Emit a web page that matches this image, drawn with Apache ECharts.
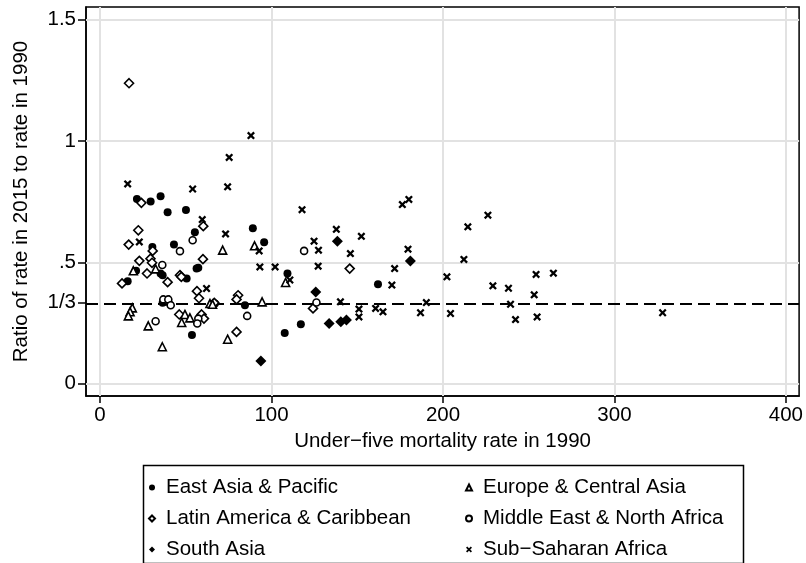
<!DOCTYPE html>
<html>
<head>
<meta charset="utf-8">
<script src="https://cdn.jsdelivr.net/npm/echarts@6/dist/echarts.min.js"></script>
<style>
  html, body { margin: 0; padding: 0; background: #fff; }
  #chart { width: 806px; height: 563px; }
</style>
</head>
<body>
<div id="chart"></div>
<script>
// [under-five mortality 1990, ratio 2015/1990]
const eastAsiaPacific = [
  [21.5, .761], [29.5, .750], [35.3, .772], [39.4, .706], [50.1, .715], [55.3, .624],
  [89.1, .640], [43.1, .573], [30.5, .563], [95.7, .583], [57.3, .477], [35.3, .454],
  [36.5, .447], [50.5, .433], [56.3, .474], [21, .465], [16.1, .422], [36.5, .333],
  [67, .330], [84.5, .323], [53.6, .200], [109.3, .454], [107.7, .209], [117.1, .245],
  [162.1, .410]
];
const latinAmerica = [
  [16.9, 1.238], [24.1, .745], [60.2, .649], [22.3, .632], [16.7, .573], [30.7, .547],
  [22.9, .506], [29.4, .515], [30.3, .498], [60, .513], [27.4, .454], [46.6, .447],
  [47.4, .440], [12.8, .413], [39.4, .418], [56.5, .381], [57.7, .352], [66.6, .333],
  [80.5, .364], [79.6, .347], [46.2, .285], [59.2, .285], [60.6, .268], [79.6, .213],
  [124.2, .310], [145.6, .474]
];
const southAsia = [
  [93.8, .093], [138.4, .587], [181, .505], [125.8, .378], [133.6, .248], [140.4, .255],
  [143.7, .262]
];
const europeCentralAsia = [
  [71.5, .550], [90.1, .568], [19.4, .465], [32.4, .473], [40.4, .341], [49.5, .285],
  [52.4, .271], [47.6, .252], [18.8, .312], [17.5, .296], [16.5, .279], [28.1, .238],
  [36.3, .152], [64.1, .330], [65.6, .327], [94.5, .337], [74.4, .183], [108.2, .417]
];
const middleEastNAfrica = [
  [54, .591], [46.6, .546], [36.3, .489], [36.9, .347], [39.8, .347], [41.2, .323],
  [32.4, .257], [57.3, .268], [56.7, .248], [85.8, .279], [119, .547], [126.2, .334]
];
const subSaharanAfrica = [
  [88, 1.022], [75.3, .932], [16.1, .823], [54, .802], [74.4, .811], [59.6, .676],
  [73.2, .617], [22.9, .584], [92.8, .547], [93.2, .481], [102.1, .481], [62.1, .392],
  [117.8, .717], [124.8, .587], [127.4, .550], [137.8, .636], [152.4, .607], [146, .536],
  [176.3, .738], [180.1, .759], [179.6, .554], [127.2, .484], [171.8, .474], [202.3, .440],
  [110.7, .427], [140.2, .337], [170.2, .406], [151, .307], [151, .275], [160.7, .310],
  [165, .296], [186.9, .292], [190.3, .334], [204.4, .289], [226.2, .694], [214.5, .646],
  [212.2, .512], [229.1, .403], [238.2, .393], [254.3, .450], [264.4, .455], [253.2, .366],
  [239.4, .327], [242.3, .264], [254.9, .275], [328.1, .292]
];

const xTicks = [0, 100, 200, 300, 400];
const yTicks = [0, 1 / 3, 0.5, 1, 1.5];
const yTickLabels = ['0', '1/3', '.5', '1', '1.5'];
const yGrid = [0, 0.5, 1, 1.5];
const refLine = 1 / 3;

const FONT = 'Liberation Sans, Arial, Helvetica, sans-serif';
const FS = 20.5;
const crossPath = 'path://M0,2L2,0L5,3L8,0L10,2L7,5L10,8L8,10L5,7L2,10L0,8L3,5Z';

const chart = echarts.init(document.getElementById('chart'));

function pts(name, data, symbol, size, hollow) {
  return {
    name: name,
    type: 'scatter',
    data: data,
    symbol: symbol,
    symbolSize: size,
    z: 5,
    itemStyle: hollow
      ? { color: '#fff', borderColor: '#000', borderWidth: 1.6, opacity: 1 }
      : { color: '#000', borderWidth: 0, opacity: 1 }
  };
}

const gridLines = [];
xTicks.forEach(v => gridLines.push({ xAxis: v }));
yGrid.forEach(v => gridLines.push({ yAxis: v }));

const legendText = { color: '#000', fontSize: FS, fontFamily: FONT, lineHeight: 20, padding: [0, 0, 0, 6] };

const option = {
  animation: false,
  backgroundColor: '#fff',
  textStyle: { fontFamily: FONT },
  grid: {
    left: 86, top: 7, right: 6, bottom: 167,
    show: true, borderColor: '#000', borderWidth: 1.5
  },
  xAxis: {
    type: 'value',
    min: -8.2, max: 407.7,
    name: 'Under\u2212five mortality rate in 1990',
    nameLocation: 'middle',
    nameGap: 31,
    nameTextStyle: { color: '#000', fontSize: FS, fontFamily: FONT },
    axisLine: { show: true, onZero: false, lineStyle: { color: '#000', width: 1.5 } },
    axisTick: { show: true, length: 7, customValues: xTicks, lineStyle: { color: '#000', width: 1.5 } },
    axisLabel: { customValues: xTicks, color: '#000', fontSize: FS, fontFamily: FONT, margin: 9 },
    splitLine: { show: false }
  },
  yAxis: {
    type: 'value',
    min: -0.051, max: 1.552,
    name: 'Ratio of rate in 2015 to rate in 1990',
    nameLocation: 'middle',
    nameGap: 54,
    nameRotate: 90,
    nameTextStyle: { color: '#000', fontSize: FS, fontFamily: FONT },
    axisLine: { show: true, onZero: false, lineStyle: { color: '#000', width: 1.5 } },
    axisTick: { show: true, length: 8, customValues: yTicks, lineStyle: { color: '#000', width: 1.5 } },
    axisLabel: {
      customValues: yTicks,
      color: '#000', fontSize: FS, fontFamily: FONT, margin: 10,
      formatter: function (v) {
        const i = yTicks.findIndex(t => Math.abs(t - v) < 1e-6);
        return i >= 0 ? yTickLabels[i] : '';
      }
    },
    splitLine: { show: false }
  },
  legend: [
    {
      orient: 'vertical', left: 148, top: 477, padding: 0, itemGap: 10,
      itemWidth: 6, itemHeight: 6,
      data: ['East Asia & Pacific', 'Latin America & Caribbean', 'South Asia'],
      textStyle: legendText
    },
    {
      orient: 'vertical', left: 465, top: 477, padding: 0, itemGap: 10,
      itemWidth: 6, itemHeight: 6,
      data: ['Europe & Central Asia', 'Middle East & North Africa', 'Sub\u2212Saharan Africa'],
      textStyle: legendText
    }
  ],
  graphic: [
    {
      type: 'rect', left: 141, top: 463,
      shape: { width: 600, height: 98 },
      style: { fill: 'none', stroke: '#000', lineWidth: 1.5 },
      silent: true
    }
  ],
  series: [
    {
      name: 'grid', type: 'scatter', data: [], z: 1, silent: true,
      markLine: {
        silent: true, symbol: ['none', 'none'], label: { show: false },
        lineStyle: { color: '#e2e2e2', width: 2, type: 'solid' },
        emphasis: { disabled: true },
        data: gridLines
      }
    },
    {
      name: 'ref', type: 'scatter', data: [], z: 2, silent: true,
      markLine: {
        silent: true, symbol: ['none', 'none'], label: { show: false },
        lineStyle: { color: '#000', width: 2, type: [12, 6] },
        emphasis: { disabled: true },
        data: [{ yAxis: refLine }]
      }
    },
    pts('East Asia & Pacific', eastAsiaPacific, 'circle', 8, false),
    pts('Latin America & Caribbean', latinAmerica, 'diamond', 9, true),
    pts('South Asia', southAsia, 'diamond', 11, false),
    pts('Europe & Central Asia', europeCentralAsia, 'triangle', 8, true),
    pts('Middle East & North Africa', middleEastNAfrica, 'circle', 7, true),
    pts('Sub\u2212Saharan Africa', subSaharanAfrica, crossPath, 8, false)
  ]
};

chart.setOption(option);
</script>
</body>
</html>
